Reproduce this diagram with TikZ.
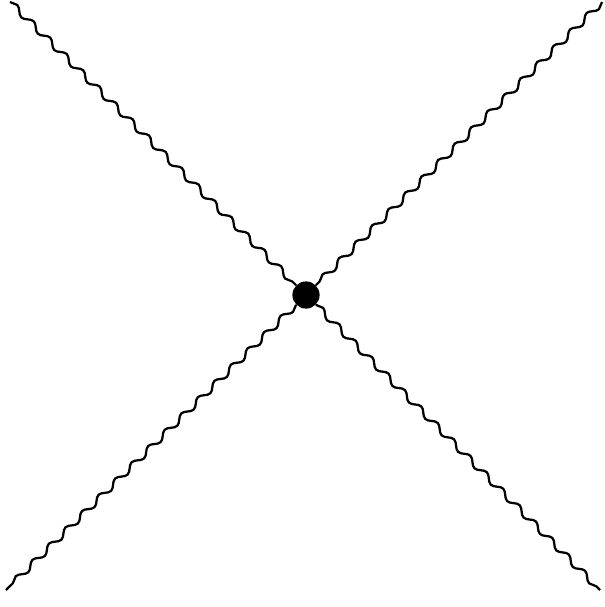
\documentclass[tikz,border=0pt]{standalone}
\usetikzlibrary{decorations.pathmorphing}
\tikzset{
  vtx/.style  = {circle, fill=black, inner sep=0pt, minimum size=0.68cm},
  phot/.style = {line width=1.6pt, decorate,
                 decoration={snake, amplitude=0.75mm, segment length=5.8mm}},
}
\begin{document}
\begin{tikzpicture}[x=0.025cm, y=-0.025cm]
  \useasboundingbox (0,0) rectangle (605,607);
  \node[vtx] (v) at (306,295) {};
  \coordinate (tl) at (10,2);
  \coordinate (tr) at (602,2);
  \coordinate (bl) at (6,590);
  \coordinate (br) at (600,590);
  \draw[phot] (tl) -- (v); \draw[phot] (tr) -- (v);
  \draw[phot] (v) -- (bl); \draw[phot] (v) -- (br);
\end{tikzpicture}
\end{document}
